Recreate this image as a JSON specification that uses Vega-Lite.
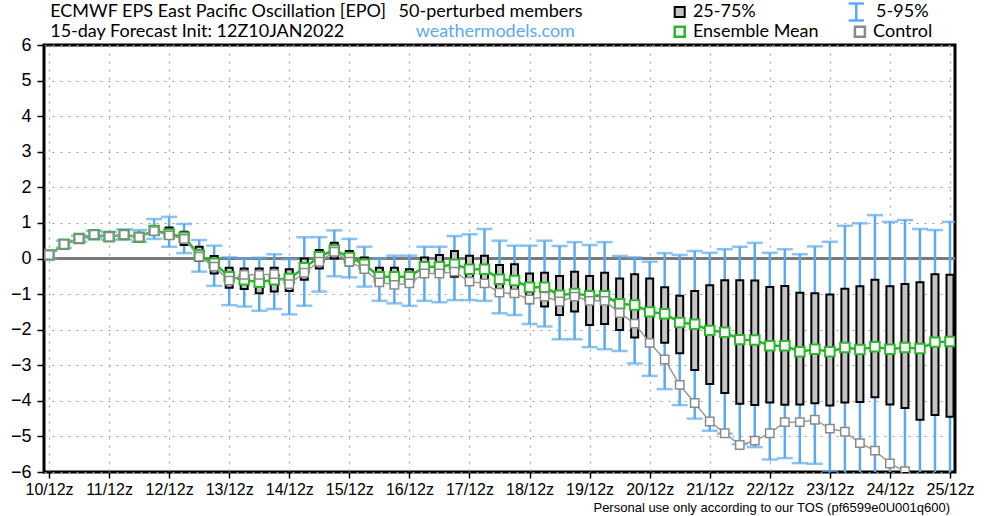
{
  "$schema": "https://vega.github.io/schema/vega-lite/v6.json",
  "width": 911,
  "height": 427,
  "autosize": "none",
  "padding": {"left": 44, "top": 45, "right": 45, "bottom": 44},
  "background": "white",
  "config": {
    "view": {"stroke": "black", "strokeWidth": 3},
    "axis": {"domain": false, "labelColor": "black", "tickColor": "black", "title": null, "gridColor": "#999999", "gridDash": [2, 6], "gridWidth": 1, "grid": true, "labelOverlap": false, "tickWidth": 1.5},
    "axisX": {"tickCount": 15, "labelExpr": "datum.value + '/12z'", "tickSize": 6, "labelFontSize": 16, "labelFont": "Liberation Sans Narrow, Liberation Sans, sans-serif", "labelPadding": 3, "labelFlush": false},
    "axisY": {"tickCount": 13, "tickSize": 7, "labelFontSize": 18, "labelFont": "Liberation Sans, sans-serif", "labelPadding": 6}
  },
  "data": {"values": [
    {"d": 10, "p5": 0.0, "p25": 0.07, "p75": 0.13, "p95": 0.22, "m": 0.1, "c": 0.1},
    {"d": 10.25, "p5": 0.3, "p25": 0.37, "p75": 0.45, "p95": 0.5, "m": 0.4, "c": 0.4},
    {"d": 10.5, "p5": 0.47, "p25": 0.52, "p75": 0.6, "p95": 0.64, "m": 0.56, "c": 0.56},
    {"d": 10.75, "p5": 0.57, "p25": 0.63, "p75": 0.71, "p95": 0.78, "m": 0.67, "c": 0.67},
    {"d": 11, "p5": 0.52, "p25": 0.57, "p75": 0.66, "p95": 0.75, "m": 0.61, "c": 0.61},
    {"d": 11.25, "p5": 0.54, "p25": 0.62, "p75": 0.72, "p95": 0.82, "m": 0.67, "c": 0.67},
    {"d": 11.5, "p5": 0.47, "p25": 0.55, "p75": 0.66, "p95": 0.8, "m": 0.6, "c": 0.6},
    {"d": 11.75, "p5": 0.55, "p25": 0.66, "p75": 0.89, "p95": 1.11, "m": 0.79, "c": 0.77},
    {"d": 12, "p5": 0.33, "p25": 0.55, "p75": 0.87, "p95": 1.17, "m": 0.69, "c": 0.65},
    {"d": 12.25, "p5": 0.15, "p25": 0.38, "p75": 0.75, "p95": 0.97, "m": 0.6, "c": 0.55},
    {"d": 12.5, "p5": -0.37, "p25": -0.07, "p75": 0.33, "p95": 0.52, "m": 0.1, "c": 0.05},
    {"d": 12.75, "p5": -0.77, "p25": -0.42, "p75": 0.07, "p95": 0.36, "m": -0.13, "c": -0.23},
    {"d": 13, "p5": -1.31, "p25": -0.82, "p75": -0.26, "p95": 0.03, "m": -0.51, "c": -0.62},
    {"d": 13.25, "p5": -1.35, "p25": -0.86, "p75": -0.28, "p95": 0.0, "m": -0.6, "c": -0.46},
    {"d": 13.5, "p5": -1.47, "p25": -0.98, "p75": -0.28, "p95": 0.02, "m": -0.67, "c": -0.46},
    {"d": 13.75, "p5": -1.42, "p25": -0.93, "p75": -0.26, "p95": 0.12, "m": -0.6, "c": -0.44},
    {"d": 14, "p5": -1.57, "p25": -0.91, "p75": -0.3, "p95": -0.02, "m": -0.56, "c": -0.72},
    {"d": 14.25, "p5": -1.33, "p25": -0.6, "p75": 0.0, "p95": 0.6, "m": -0.26, "c": -0.4},
    {"d": 14.5, "p5": -0.93, "p25": -0.28, "p75": 0.24, "p95": 0.6, "m": 0.05, "c": -0.09},
    {"d": 14.75, "p5": -0.5, "p25": 0.0, "p75": 0.44, "p95": 0.79, "m": 0.24, "c": 0.19},
    {"d": 15, "p5": -0.53, "p25": -0.2, "p75": 0.21, "p95": 0.55, "m": 0.03, "c": -0.09},
    {"d": 15.25, "p5": -0.79, "p25": -0.39, "p75": 0.03, "p95": 0.33, "m": -0.16, "c": -0.3},
    {"d": 15.5, "p5": -1.19, "p25": -0.76, "p75": -0.26, "p95": 0.0, "m": -0.51, "c": -0.67},
    {"d": 15.75, "p5": -1.26, "p25": -0.82, "p75": -0.26, "p95": 0.08, "m": -0.51, "c": -0.74},
    {"d": 16, "p5": -1.33, "p25": -0.79, "p75": -0.3, "p95": 0.08, "m": -0.51, "c": -0.7},
    {"d": 16.25, "p5": -1.19, "p25": -0.48, "p75": 0.03, "p95": 0.33, "m": -0.23, "c": -0.42},
    {"d": 16.5, "p5": -1.23, "p25": -0.46, "p75": 0.1, "p95": 0.33, "m": -0.23, "c": -0.42},
    {"d": 16.75, "p5": -1.17, "p25": -0.51, "p75": 0.21, "p95": 0.63, "m": -0.16, "c": -0.37},
    {"d": 17, "p5": -1.17, "p25": -0.6, "p75": 0.08, "p95": 0.68, "m": -0.3, "c": -0.65},
    {"d": 17.25, "p5": -1.19, "p25": -0.79, "p75": 0.08, "p95": 0.83, "m": -0.3, "c": -0.7},
    {"d": 17.5, "p5": -1.54, "p25": -1.05, "p75": -0.18, "p95": 0.5, "m": -0.58, "c": -0.96},
    {"d": 17.75, "p5": -1.59, "p25": -1.07, "p75": -0.16, "p95": 0.36, "m": -0.62, "c": -0.98},
    {"d": 18, "p5": -1.84, "p25": -1.26, "p75": -0.42, "p95": 0.36, "m": -0.81, "c": -1.15},
    {"d": 18.25, "p5": -1.91, "p25": -1.35, "p75": -0.4, "p95": 0.5, "m": -0.81, "c": -1.07},
    {"d": 18.5, "p5": -2.27, "p25": -1.59, "p75": -0.49, "p95": 0.35, "m": -1.03, "c": -1.21},
    {"d": 18.75, "p5": -2.27, "p25": -1.49, "p75": -0.37, "p95": 0.46, "m": -0.98, "c": -1.07},
    {"d": 19, "p5": -2.49, "p25": -1.87, "p75": -0.49, "p95": 0.38, "m": -1.05, "c": -1.19},
    {"d": 19.25, "p5": -2.55, "p25": -1.84, "p75": -0.4, "p95": 0.46, "m": -1.05, "c": -1.19},
    {"d": 19.5, "p5": -2.6, "p25": -2.01, "p75": -0.56, "p95": 0.07, "m": -1.27, "c": -1.53},
    {"d": 19.75, "p5": -2.95, "p25": -2.22, "p75": -0.44, "p95": 0.03, "m": -1.31, "c": -1.83},
    {"d": 20, "p5": -3.3, "p25": -2.27, "p75": -0.56, "p95": -0.09, "m": -1.5, "c": -2.37},
    {"d": 20.25, "p5": -3.67, "p25": -2.37, "p75": -0.81, "p95": 0.15, "m": -1.55, "c": -2.84},
    {"d": 20.5, "p5": -4.12, "p25": -2.66, "p75": -1.05, "p95": 0.1, "m": -1.8, "c": -3.55},
    {"d": 20.75, "p5": -4.5, "p25": -3.13, "p75": -0.91, "p95": 0.21, "m": -1.85, "c": -4.06},
    {"d": 21, "p5": -4.84, "p25": -3.53, "p75": -0.75, "p95": 0.16, "m": -2.02, "c": -4.58},
    {"d": 21.25, "p5": -4.92, "p25": -3.78, "p75": -0.61, "p95": 0.26, "m": -2.07, "c": -4.91},
    {"d": 21.5, "p5": -5.22, "p25": -4.08, "p75": -0.61, "p95": 0.33, "m": -2.28, "c": -5.24},
    {"d": 21.75, "p5": -5.3, "p25": -4.12, "p75": -0.62, "p95": 0.44, "m": -2.29, "c": -5.12},
    {"d": 22, "p5": -5.65, "p25": -4.05, "p75": -0.8, "p95": 0.16, "m": -2.45, "c": -4.91},
    {"d": 22.25, "p5": -5.61, "p25": -4.11, "p75": -0.77, "p95": 0.26, "m": -2.45, "c": -4.6},
    {"d": 22.5, "p5": -5.75, "p25": -4.1, "p75": -0.96, "p95": 0.12, "m": -2.62, "c": -4.6},
    {"d": 22.75, "p5": -5.77, "p25": -4.07, "p75": -0.98, "p95": 0.34, "m": -2.55, "c": -4.53},
    {"d": 23, "p5": -5.98, "p25": -4.13, "p75": -1.01, "p95": 0.47, "m": -2.62, "c": -4.78},
    {"d": 23.25, "p5": -6.3, "p25": -4.05, "p75": -0.85, "p95": 0.92, "m": -2.5, "c": -4.87},
    {"d": 23.5, "p5": -6.4, "p25": -4.03, "p75": -0.78, "p95": 0.99, "m": -2.56, "c": -5.19},
    {"d": 23.75, "p5": -6.5, "p25": -3.9, "p75": -0.6, "p95": 1.22, "m": -2.48, "c": -5.4},
    {"d": 24, "p5": -6.5, "p25": -4.1, "p75": -0.78, "p95": 1.03, "m": -2.55, "c": -5.76},
    {"d": 24.25, "p5": -6.6, "p25": -4.2, "p75": -0.72, "p95": 1.08, "m": -2.5, "c": -5.98},
    {"d": 24.5, "p5": -6.6, "p25": -4.53, "p75": -0.67, "p95": 0.83, "m": -2.53, "c": -6.3},
    {"d": 24.75, "p5": -6.6, "p25": -4.4, "p75": -0.44, "p95": 0.8, "m": -2.35, "c": -6.5},
    {"d": 25, "p5": -6.7, "p25": -4.45, "p75": -0.46, "p95": 1.03, "m": -2.33, "c": -6.6}
  ]},
  "layer": [
    {"mark": {"type": "rule", "color": "#7a7a7a", "strokeWidth": 2},
     "encoding": {"y": {"datum": 0, "type": "quantitative", "scale": {"domain": [-6, 6], "nice": false, "zero": false}}}},
    {"mark": {"type": "rule", "color": "#5aaaf0", "strokeWidth": 2.5, "clip": true},
     "encoding": {
       "x": {"field": "d", "type": "quantitative", "scale": {"domain": [10, 25], "nice": false, "zero": false}},
       "y": {"field": "p5", "type": "quantitative"}, "y2": {"field": "p95"}}},
    {"mark": {"type": "tick", "orient": "horizontal", "color": "#5aaaf0", "size": 16, "thickness": 2.5, "clip": true},
     "encoding": {"x": {"field": "d", "type": "quantitative"}, "y": {"field": "p5", "type": "quantitative"}}},
    {"mark": {"type": "tick", "orient": "horizontal", "color": "#5aaaf0", "size": 16, "thickness": 2.5, "clip": true},
     "encoding": {"x": {"field": "d", "type": "quantitative"}, "y": {"field": "p95", "type": "quantitative"}}},
    {"mark": {"type": "bar", "width": 7, "fill": "#c4c4c4", "stroke": "black", "strokeWidth": 2, "clip": true},
     "encoding": {"x": {"field": "d", "type": "quantitative"}, "y": {"field": "p25", "type": "quantitative"}, "y2": {"field": "p75"}}},
    {"mark": {"type": "line", "color": "#2db52d", "strokeWidth": 2.5, "clip": true},
     "encoding": {"x": {"field": "d", "type": "quantitative"}, "y": {"field": "m", "type": "quantitative"}}},
    {"mark": {"type": "point", "shape": "square", "size": 90, "filled": true, "fill": "white", "stroke": "#2db52d", "strokeWidth": 2, "opacity": 1, "clip": true},
     "encoding": {"x": {"field": "d", "type": "quantitative"}, "y": {"field": "m", "type": "quantitative"}}},
    {"mark": {"type": "line", "color": "#9a9a9a", "strokeWidth": 1.5, "clip": true},
     "encoding": {"x": {"field": "d", "type": "quantitative"}, "y": {"field": "c", "type": "quantitative"}}},
    {"mark": {"type": "point", "shape": "square", "size": 70, "filled": true, "fill": "white", "stroke": "#8a8a8a", "strokeWidth": 1.5, "opacity": 1, "clip": true},
     "encoding": {"x": {"field": "d", "type": "quantitative"}, "y": {"field": "c", "type": "quantitative"}}},
    {"data": {"values": [{"label": "ECMWF EPS East Pacific Oscillation [EPO]"}]},
     "mark": {"type": "text", "align": "left", "baseline": "middle", "fontSize": 18, "font": "Lato", "color": "black"},
     "encoding": {"x": {"datum": 10.02}, "y": {"datum": 6.93}, "text": {"field": "label"}}},
    {"data": {"values": [{"label": "50-perturbed members"}]},
     "mark": {"type": "text", "align": "left", "baseline": "middle", "fontSize": 18, "font": "Lato", "color": "black"},
     "encoding": {"x": {"datum": 15.82}, "y": {"datum": 6.93}, "text": {"field": "label"}}},
    {"data": {"values": [{"label": "15-day Forecast Init: 12Z10JAN2022"}]},
     "mark": {"type": "text", "align": "left", "baseline": "middle", "fontSize": 18, "font": "Lato", "color": "black"},
     "encoding": {"x": {"datum": 10.02}, "y": {"datum": 6.37}, "text": {"field": "label"}}},
    {"data": {"values": [{"label": "weathermodels.com"}]},
     "mark": {"type": "text", "align": "center", "baseline": "middle", "fontSize": 18, "font": "Lato", "color": "#5aaaf0"},
     "encoding": {"x": {"datum": 17.43}, "y": {"datum": 6.37}, "text": {"field": "label"}}},
    {"data": {"values": [{"label": "25-75%"}]},
     "mark": {"type": "point", "shape": "square", "size": 100, "filled": true, "fill": "#c4c4c4", "stroke": "black", "strokeWidth": 2, "opacity": 1},
     "encoding": {"x": {"datum": 20.5}, "y": {"datum": 6.93}}},
    {"data": {"values": [{"label": "25-75%"}]},
     "mark": {"type": "text", "align": "left", "baseline": "middle", "fontSize": 18, "font": "Lato", "color": "black"},
     "encoding": {"x": {"datum": 20.72}, "y": {"datum": 6.93}, "text": {"field": "label"}}},
    {"data": {"values": [{"label": "5-95%"}]},
     "mark": {"type": "point", "shape": "M0,-1L0,1M-0.9,-1L0.9,-1M-0.9,1L0.9,1", "size": 289, "filled": false, "stroke": "#5aaaf0", "strokeWidth": 2.5, "opacity": 1},
     "encoding": {"x": {"datum": 23.44}, "y": {"datum": 6.93}}},
    {"data": {"values": [{"label": "5-95%"}]},
     "mark": {"type": "text", "align": "left", "baseline": "middle", "fontSize": 18, "font": "Lato", "color": "black"},
     "encoding": {"x": {"datum": 23.77}, "y": {"datum": 6.93}, "text": {"field": "label"}}},
    {"data": {"values": [{"label": "Ensemble Mean"}]},
     "mark": {"type": "point", "shape": "square", "size": 100, "filled": true, "fill": "white", "stroke": "#2db52d", "strokeWidth": 2.5, "opacity": 1},
     "encoding": {"x": {"datum": 20.5}, "y": {"datum": 6.37}}},
    {"data": {"values": [{"label": "Ensemble Mean"}]},
     "mark": {"type": "text", "align": "left", "baseline": "middle", "fontSize": 18, "font": "Lato", "color": "black"},
     "encoding": {"x": {"datum": 20.72}, "y": {"datum": 6.37}, "text": {"field": "label"}}},
    {"data": {"values": [{"label": "Control"}]},
     "mark": {"type": "point", "shape": "square", "size": 100, "filled": true, "fill": "white", "stroke": "#8a8a8a", "strokeWidth": 2.5, "opacity": 1},
     "encoding": {"x": {"datum": 23.5}, "y": {"datum": 6.37}}},
    {"data": {"values": [{"label": "Control"}]},
     "mark": {"type": "text", "align": "left", "baseline": "middle", "fontSize": 18, "font": "Lato", "color": "black"},
     "encoding": {"x": {"datum": 23.72}, "y": {"datum": 6.37}, "text": {"field": "label"}}},
    {"data": {"values": [{"label": "Personal use only according to our TOS (pf6599e0U001q600)"}]},
     "mark": {"type": "text", "align": "right", "baseline": "middle", "fontSize": 13, "font": "Liberation Sans Narrow, Liberation Sans, sans-serif", "color": "black"},
     "encoding": {"x": {"datum": 25}, "y": {"datum": -7.02}, "text": {"field": "label"}}}
  ]
}
